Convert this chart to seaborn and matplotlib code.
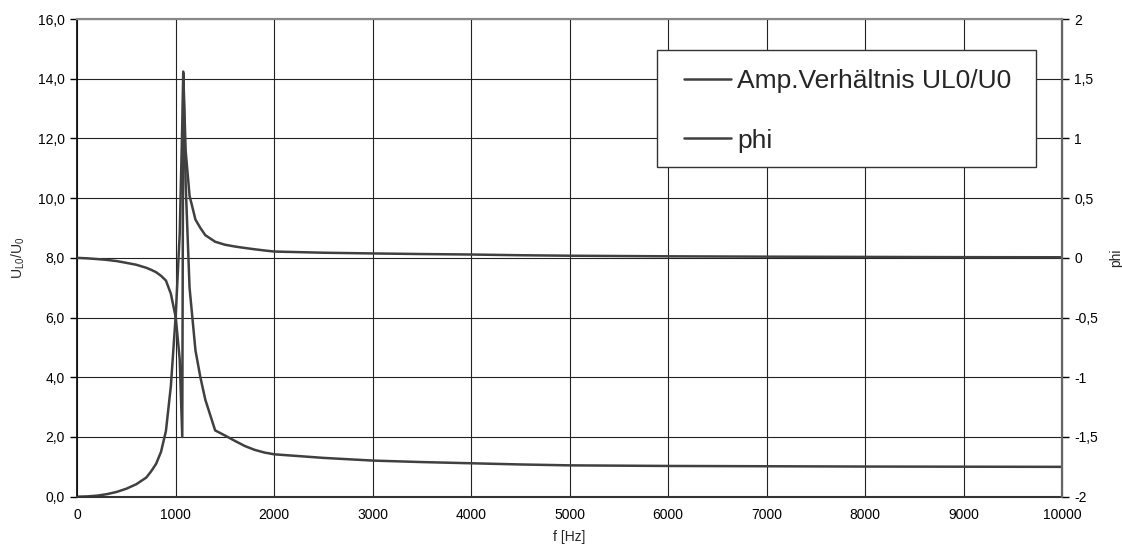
import matplotlib
matplotlib.use("Agg")
import matplotlib.pyplot as plt
import seaborn as sns
import pandas as pd
from matplotlib.ticker import FuncFormatter, MultipleLocator
from matplotlib.patches import Rectangle

# ---- data ----
freq = [0, 100, 200, 300, 400, 500, 600, 700, 750, 800, 850, 900, 950, 1000,
        1040, 1066, 1076, 1100, 1140, 1200, 1250, 1300, 1400, 1500, 1600, 1700,
        1800, 1900, 2000, 2500, 3000, 3500, 4000, 4500, 5000, 6000, 7000, 8000,
        9000, 10000]
amp = [0.0, 0.01, 0.035, 0.085, 0.16, 0.27, 0.42, 0.64, 0.85, 1.1, 1.5, 2.2, 3.7, 6.1,
       8.8, 12.5, 14.2, 10.5, 7.0, 4.9, 4.0, 3.25, 2.22, 2.05, 1.87, 1.70,
       1.57, 1.48, 1.42, 1.30, 1.21, 1.16, 1.12, 1.08, 1.05, 1.03, 1.02, 1.01,
       1.005, 1.0]
phi = [0.0, -0.004, -0.01, -0.017, -0.027, -0.042, -0.058, -0.083, -0.1, -0.12, -0.15, -0.19, -0.3, -0.5,
       -0.85, -1.5, 1.56, 0.9, 0.52, 0.32, 0.25, 0.19, 0.135, 0.11, 0.095, 0.083,
       0.072, 0.062, 0.053, 0.043, 0.037, 0.032, 0.028, 0.022, 0.018, 0.013, 0.010, 0.008,
       0.006, 0.005]
amp_label = "Amp.Verhältnis UL0/U0"
phi_label = "phi"
x_label = "f [Hz]"
y_label = r"U$_{L0}$/U$_0$"
y2_label = "phi"

df = pd.DataFrame({"f": freq, "amp": amp, "phi": phi})

sns.set_style("white")
plt.rcParams["font.family"] = ["Liberation Sans", "DejaVu Sans"]
plt.rcParams["mathtext.fontset"] = "custom"
plt.rcParams["mathtext.rm"] = "Liberation Sans"
plt.rcParams["mathtext.it"] = "Liberation Sans"
plt.rcParams["mathtext.bf"] = "Liberation Sans"

fig = plt.figure(figsize=(11.22, 5.53), dpi=100)
ax = fig.add_axes([0.0689, 0.1018, 0.8776, 0.8638])
ax2 = ax.twinx()

line_color = "#404040"
sns.lineplot(data=df, x="f", y="amp", ax=ax, color=line_color, linewidth=1.8,
             legend=False, label=amp_label)
sns.lineplot(data=df, x="f", y="phi", ax=ax2, color=line_color, linewidth=1.8,
             legend=False, label=phi_label)

ax.set_xlim(0, 10000)
ax.set_ylim(0, 16)
ax2.set_ylim(-2, 2)
ax.xaxis.set_major_locator(MultipleLocator(1000))
ax.yaxis.set_major_locator(MultipleLocator(2))
ax2.yaxis.set_major_locator(MultipleLocator(0.5))

ax.yaxis.set_major_formatter(FuncFormatter(lambda v, p: f"{v:.1f}".replace(".", ",")))

def fmt_r(v, p):
    s = f"{v:g}".replace(".", ",")
    return "0" if s == "-0" else s

ax2.yaxis.set_major_formatter(FuncFormatter(fmt_r))
ax.xaxis.set_major_formatter(FuncFormatter(lambda v, p: f"{int(round(v))}"))

ax.grid(True, which="major", color="#222222", linewidth=0.8)
ax.set_axisbelow(True)

for a in (ax, ax2):
    a.tick_params(axis="both", direction="out", length=5, width=1, labelsize=10,
                  colors="black", pad=4)
ax.tick_params(axis="x", length=4)

ax.spines["left"].set_color("#111111"); ax.spines["left"].set_linewidth(1.3)
ax.spines["bottom"].set_color("#333333"); ax.spines["bottom"].set_linewidth(1.5)
for a in (ax, ax2):
    a.spines["top"].set_color("#888888"); a.spines["top"].set_linewidth(1.5)
ax2.spines["right"].set_color("#666666"); ax2.spines["right"].set_linewidth(1.6)
ax2.spines["left"].set_visible(False)
ax2.spines["bottom"].set_visible(False)

ax.set_xlabel(x_label, fontsize=10, labelpad=6)
ax.set_ylabel(y_label, fontsize=10, labelpad=8)
ax2.set_ylabel(y2_label, fontsize=10, labelpad=8)

# legend box
box = Rectangle((0.589, 0.690), 0.385, 0.245, transform=ax2.transAxes,
                facecolor="white", edgecolor="#333333", linewidth=1.0, zorder=5)
ax2.add_patch(box)

h1, l1 = ax.get_legend_handles_labels()
h2, l2 = ax2.get_legend_handles_labels()
leg = ax2.legend(h1 + h2, l1 + l2, loc="upper left", bbox_to_anchor=(0.616, 0.895),
                 borderaxespad=0, borderpad=0, fontsize=19, frameon=False,
                 labelspacing=1.34, handlelength=1.8, handletextpad=0.22)
leg.set_zorder(6)

fig.savefig("out.png", dpi=100)
